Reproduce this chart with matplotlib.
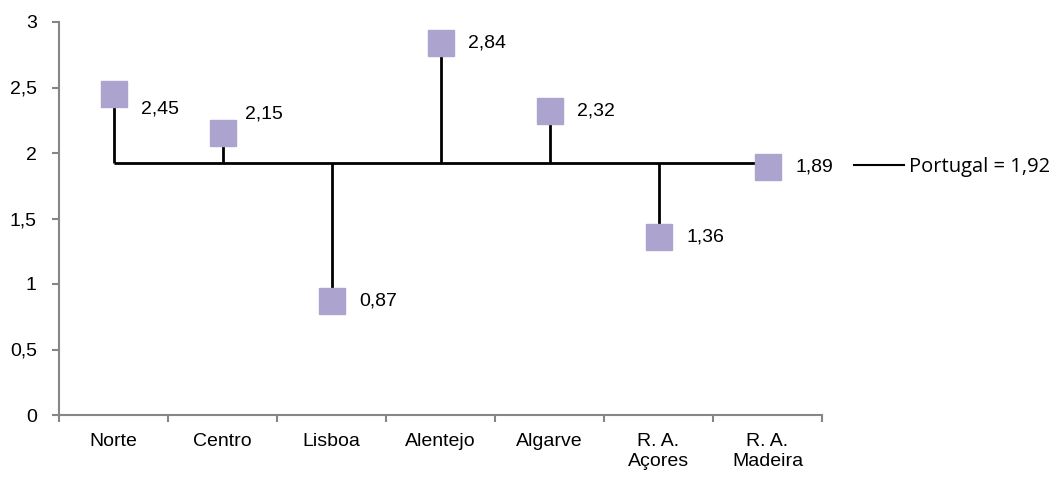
import matplotlib
matplotlib.use("Agg")
import matplotlib.pyplot as plt
from matplotlib.ticker import FixedLocator, FuncFormatter
from matplotlib.lines import Line2D

categories = ["Norte", "Centro", "Lisboa", "Alentejo", "Algarve", "R. A.\nAçores", "R. A.\nMadeira"]
values = [2.45, 2.15, 0.87, 2.84, 2.32, 1.36, 1.89]
value_labels = ["2,45", "2,15", "0,87", "2,84", "2,32", "1,36", "1,89"]
portugal = 1.92
portugal_label = "Portugal = 1,92"
yticks = [0, 0.5, 1, 1.5, 2, 2.5, 3]

plt.rcParams['font.family'] = ['Liberation Sans', 'DejaVu Sans']

fig = plt.figure(figsize=(10.56, 4.78), dpi=100)
ax = fig.add_axes([59/1056, 1-415/478, (822-59)/1056, (415-22)/478])

x = list(range(len(categories)))
line_col = "black"
mk_col = "#ADA3CF"

ax.hlines(portugal, x[0], x[-1], color=line_col, lw=2, zorder=2)
ax.vlines(x, portugal, values, color=line_col, lw=2, zorder=2)
ax.plot(x, values, ls="none", marker="s", ms=19, mfc=mk_col, mec=mk_col, zorder=3)

# label offsets in points (Norte and Centro labels moved manually in source)
offsets = [(20, -11), (16, 14), (20, 0), (20, 0), (20, 0), (20, 0), (20, 0)]
for xi, v, lab, off in zip(x, values, value_labels, offsets):
    ax.annotate(lab, (xi, v), xytext=off, textcoords="offset points",
                ha="left", va="center", fontsize=14, color="black")

ax.set_xlim(-0.5, len(categories) - 0.5)
ax.set_ylim(0, 3)
ax.yaxis.set_major_locator(FixedLocator(yticks))
ax.yaxis.set_major_formatter(FuncFormatter(lambda v, p: ("%g" % v).replace(".", ",")))
ax.set_xticks(x)
ax.set_xticklabels(categories, fontsize=14, linespacing=1.25)
ax.set_xticks([i - 0.5 for i in range(len(categories) + 1)], minor=True)
ax.tick_params(axis="x", which="major", length=0, pad=13)
ax.tick_params(axis="x", which="minor", length=5, width=1.5, color="#868686", direction="out")
ax.tick_params(axis="y", length=5, width=1.5, color="#868686", labelsize=14, pad=11)

for s in ["top", "right"]:
    ax.spines[s].set_visible(False)
for s in ["left", "bottom"]:
    ax.spines[s].set_color("#868686")
    ax.spines[s].set_linewidth(1.5)

handle = Line2D([], [], color=line_col, lw=1.5)
leg = fig.legend([handle], [portugal_label], loc="center left",
                 bbox_to_anchor=(846/1056, 1-167/478), frameon=False,
                 handlelength=2.5, handletextpad=0.25, borderaxespad=0,
                 prop={"family": ["Open Sans", "DejaVu Sans"], "size": 14.5})

fig.savefig("out.png", dpi=100)
